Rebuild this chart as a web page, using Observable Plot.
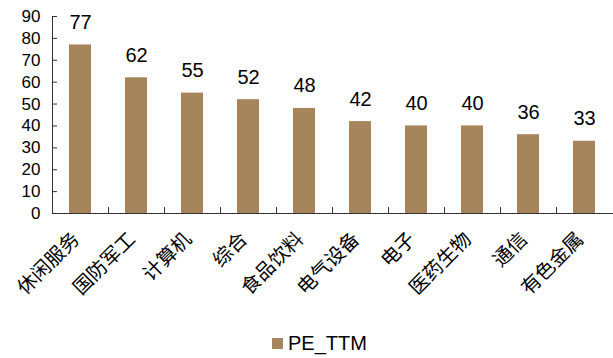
<!DOCTYPE html>
<html><head><meta charset="utf-8">
<script src="https://cdn.jsdelivr.net/npm/d3@7"></script>
<script src="https://cdn.jsdelivr.net/npm/@observablehq/plot@0.6"></script>
<style>
body{margin:0;background:#fff;}
#wrap{position:relative;width:613px;height:358px;}
#chart svg{display:block;}
#legend{position:absolute;left:272px;top:333px;height:20px;display:flex;align-items:center;font-family:"Liberation Sans",Arial,sans-serif;font-size:20px;color:#000;}
#legend .sw{width:11px;height:11px;background:#A6845C;margin-right:5px;}
</style>
</head><body><div id="wrap"><div id="chart"></div><div id="legend"><div class="sw"></div><span id="lt"></span></div></div>
<script>
const categories = ["休闲服务","国防军工","计算机","综合","食品饮料","电气设备","电子","医药生物","通信","有色金属"];
const values = [77,62,55,52,48,42,40,40,36,33];
const yTicks = [0,10,20,30,40,50,60,70,80,90];
const seriesName = "PE_TTM";

const data = categories.map((c,i)=>({category:c, value: values[i]}));
const W=613, H=325, mL=52, mR=1, mT=16, mB=112;
const plotH = H-mT-mB, plotW = W-mL-mR, step = plotW/categories.length;
const color = "#A6845C", axisColor = "#333";

const chart = Plot.plot({
  width: W, height: H, marginLeft: mL, marginRight: mR, marginTop: mT, marginBottom: mB,
  style: {fontFamily: "'Liberation Sans', Arial, sans-serif", background: "#fff", overflow: "visible"},
  x: {domain: categories, paddingInner: 0.6, paddingOuter: 0.3, axis: null},
  y: {domain: [0, 90], axis: null},
  marks: [
    Plot.barY(data, {x: "category", y: "value", fill: color}),
    Plot.text(data, {x: "category", y: "value", text: d => String(d.value), lineAnchor: "bottom", dy: -16, fontSize: 20, fill: "#000"}),
    Plot.ruleY(yTicks, {y: d => d, insetRight: plotW - 5, stroke: axisColor}),
    Plot.text(yTicks, {y: d => d, frameAnchor: "left", dx: -12, textAnchor: "end", text: d => String(d), fontSize: 17, fill: "#000"}),
    Plot.ruleX(categories.slice(0, -1), {x: d => d, dx: step/2, insetTop: plotH - 6, stroke: axisColor}),
    Plot.frame({anchor: "left", stroke: axisColor}),
    Plot.frame({anchor: "bottom", stroke: axisColor}),
    Plot.text(categories, {x: d => d, frameAnchor: "bottom", rotate: -45, textAnchor: "end", dx: 0, dy: 27, fontSize: 19.5, fill: "#000", fontFamily: "'Noto Sans CJK SC', sans-serif"})
  ]
});
document.getElementById("chart").appendChild(chart);
document.getElementById("lt").textContent = seriesName;
</script>
</body></html>
